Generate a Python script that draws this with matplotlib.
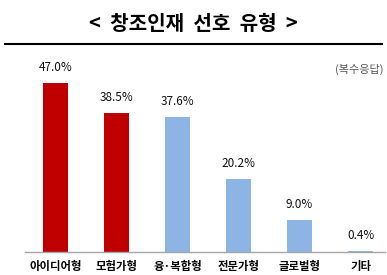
import matplotlib.pyplot as plt
from matplotlib.lines import Line2D

plt.rcParams['font.family'] = ['Noto Sans CJK KR', 'DejaVu Sans']

categories = ['아이디어형', '모험가형', '융·복합형', '전문가형', '글로벌형', '기타']
values = [47.0, 38.5, 37.6, 20.2, 9.0, 0.4]
colors = ['#C00000', '#C00000', '#8DB4E2', '#8DB4E2', '#8DB4E2', '#8DB4E2']

fig = plt.figure(figsize=(3.87, 2.75), dpi=100)
ax = fig.add_axes([25 / 387, 23 / 275, 360 / 387, 192 / 275])

x = range(len(categories))
ax.bar(x, values, width=0.4, color=colors)
for i, v in zip(x, values):
    ax.text(i, v + 2.5, f'{v:.1f}%', ha='center', va='bottom',
            fontsize=8.5, color='#111111')

ax.set_xlim(-0.5, 5.4)
ax.set_ylim(0, 53.3)
ax.set_xticks(list(x))
ax.set_xticklabels(categories, fontsize=8.2, fontweight='bold')
ax.tick_params(axis='x', length=0, pad=6)
ax.set_yticks([])
for s in ['top', 'right', 'left']:
    ax.spines[s].set_visible(False)
ax.spines['bottom'].set_color('#A6A6A6')
ax.spines['bottom'].set_linewidth(1.0)

fig.text(0.5, 1 - 24 / 275, '<  창조인재  선호  유형  >', ha='center', va='center',
         fontsize=14.5, fontweight='bold')
fig.add_artist(Line2D([5 / 387, 382 / 387], [1 - 44 / 275, 1 - 44 / 275],
                      color='black', linewidth=1.5))
fig.text(384 / 387, 1 - 69 / 275, '(복수응답)', ha='right', va='center',
         fontsize=8, color='#555555')

fig.savefig('out.png', dpi=100)
